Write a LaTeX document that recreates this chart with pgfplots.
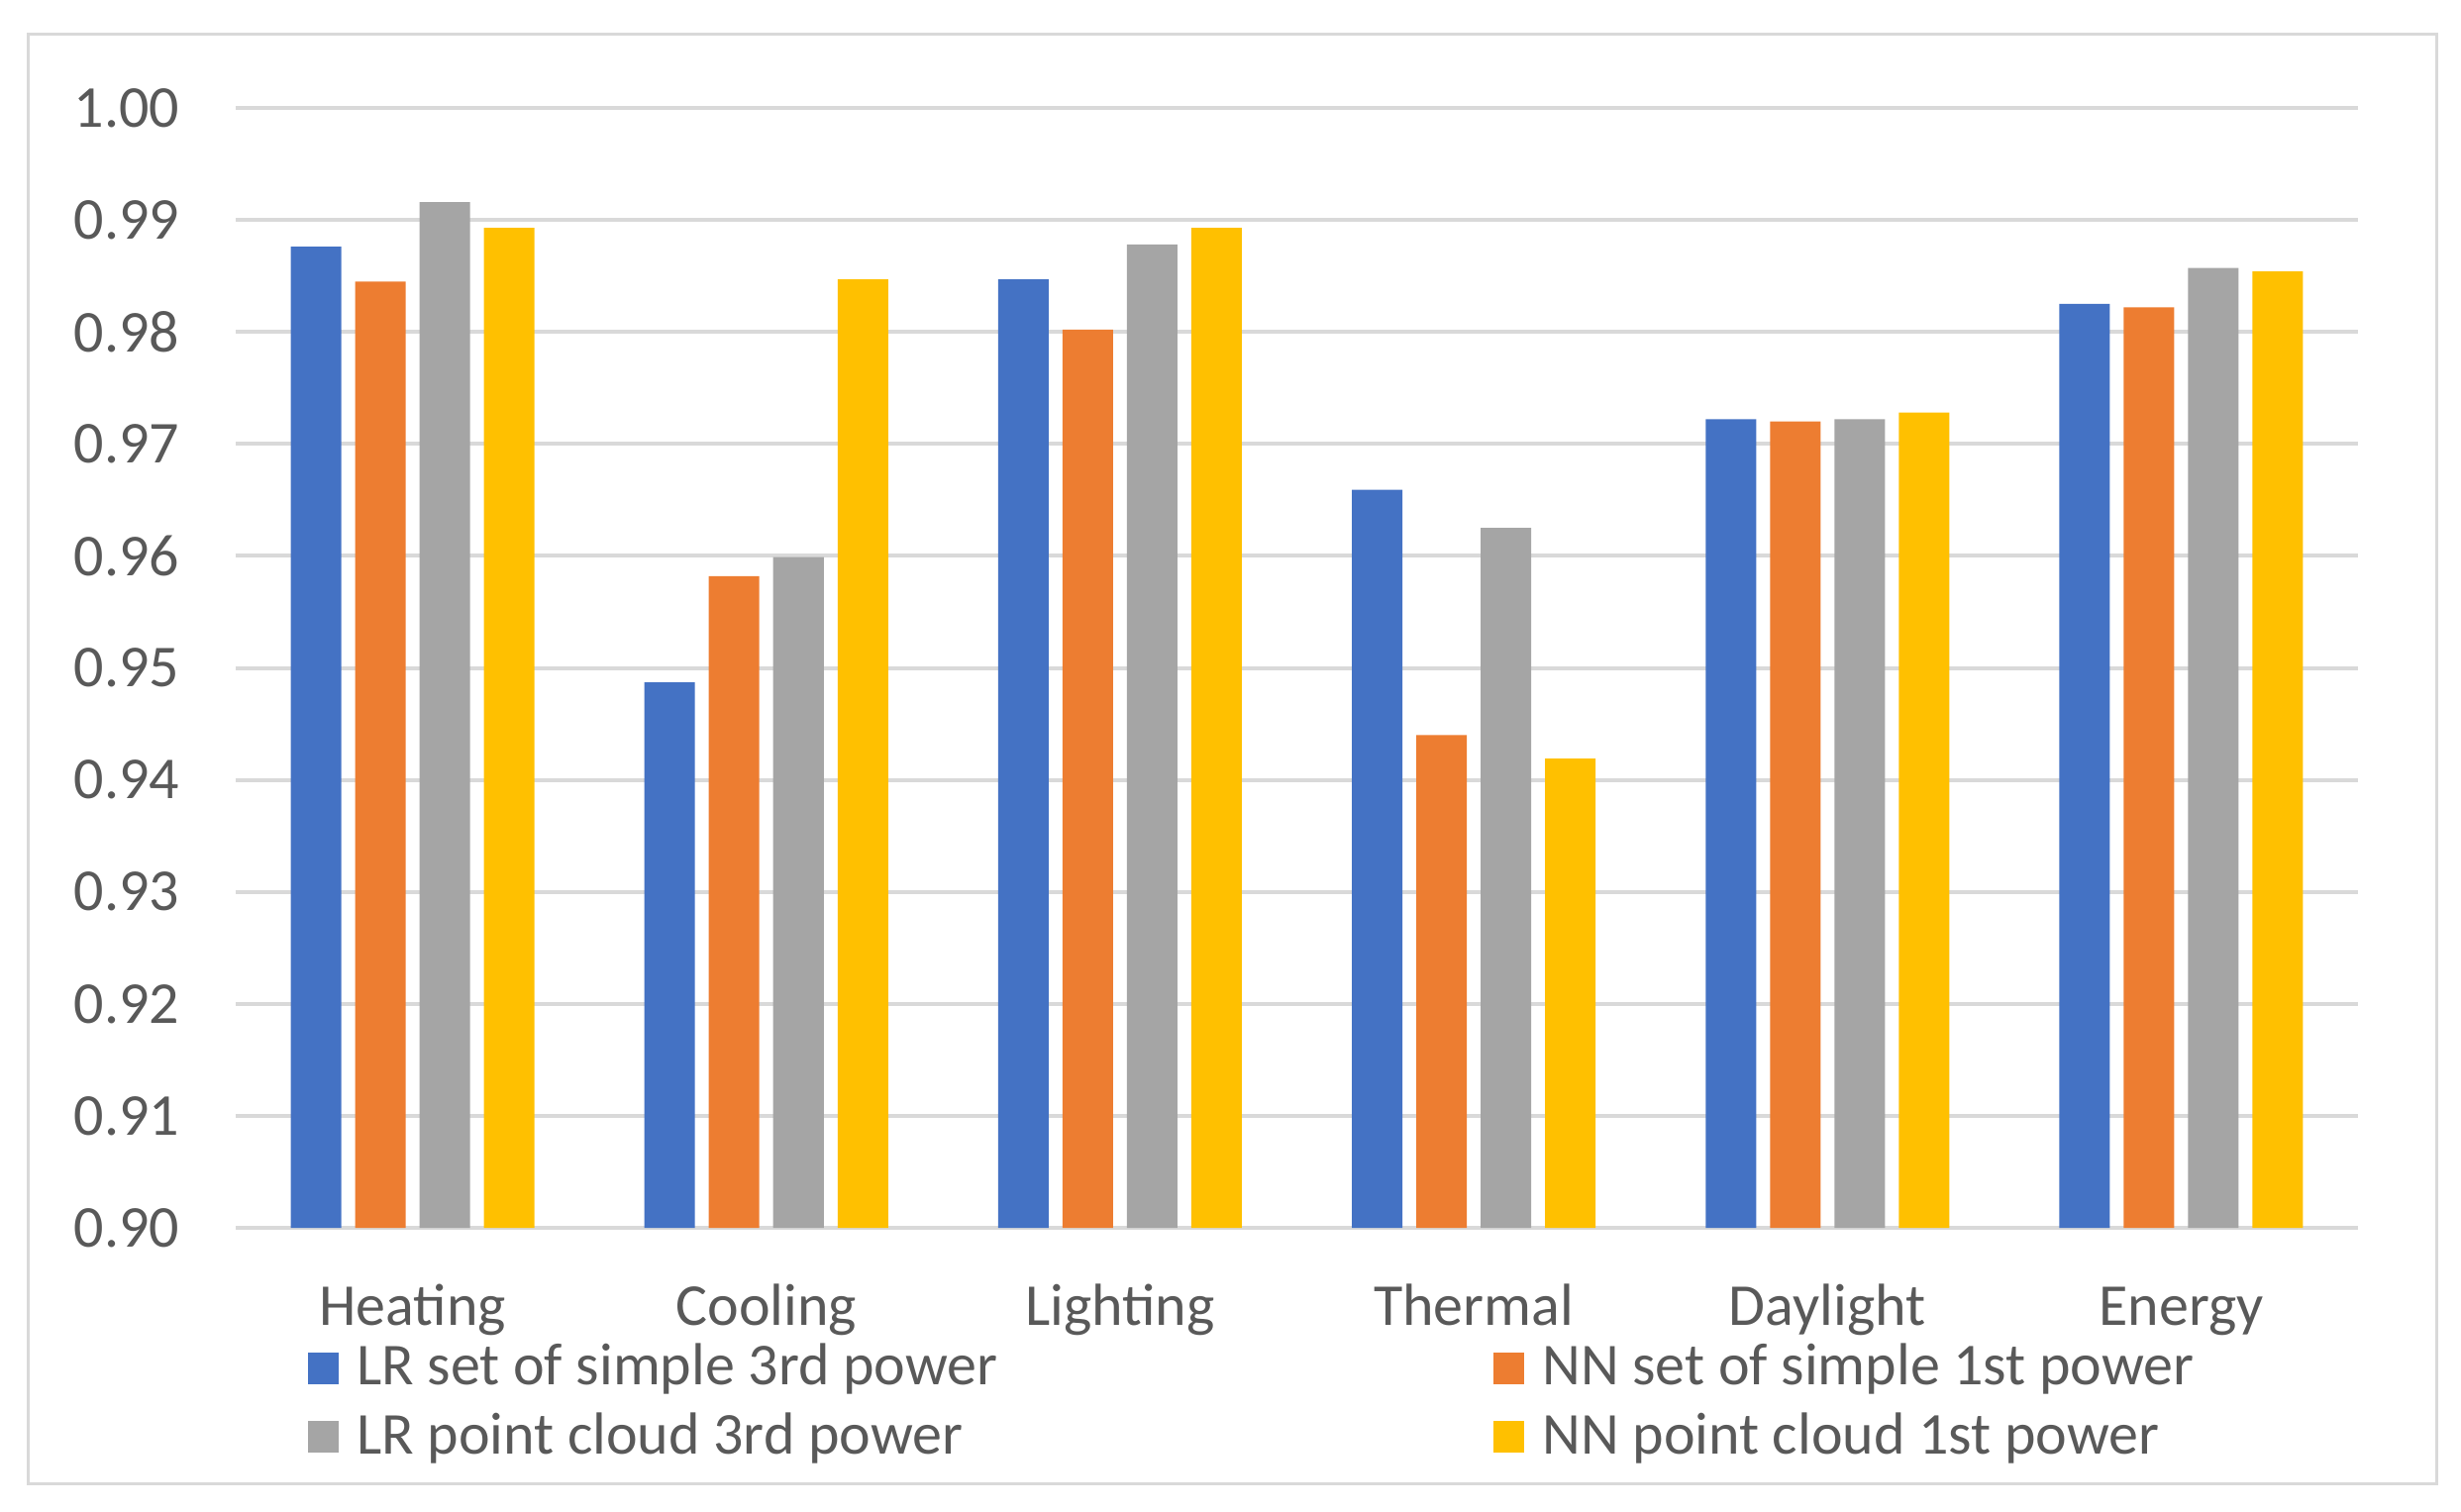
\documentclass[border=0pt]{standalone}
\usepackage{fontspec}
\setmainfont{Carlito}
\usepackage{pgfplots}
\pgfplotsset{compat=1.18}
\definecolor{cblue}{HTML}{4472C4}
\definecolor{corange}{HTML}{ED7D31}
\definecolor{cgray}{HTML}{A5A5A5}
\definecolor{cyellow}{HTML}{FFC000}
\definecolor{txtgray}{HTML}{595959}
\definecolor{gridgray}{HTML}{D9D9D9}
\begin{document}
\begin{tikzpicture}
\begin{axis}[
  scale only axis, width=428.6pt, height=226.2pt,
  ybar=2.8pt, bar width=10.2pt,
  xmin=-0.5, xmax=5.5, ymin=0.90, ymax=1.00,
  xtick={0,1,2,3,4,5},
  xticklabels={Heating,Cooling,Lighting,Thermal,Daylight,Energy},
  ytick={0.90,0.91,0.92,0.93,0.94,0.95,0.96,0.97,0.98,0.99,1.00},
  scaled y ticks=false,
  /pgf/number format/assume math mode=true,
  yticklabel style={/pgf/number format/.cd, fixed, fixed zerofill, precision=2, /tikz/.cd,
     anchor=east, inner sep=0pt, xshift=-11.2pt},
  xticklabel style={anchor=base, inner sep=0pt, yshift=-19.6pt},
  tick label style={font=\fontsize{12}{14}\selectfont, text=txtgray},
  axis line style={draw=none},
  major tick length=0pt,
  tick style={draw=none},
  ymajorgrids, major grid style={gridgray, line width=0.8pt},
  legend columns=2,
  legend cell align=left,
  legend image code/.code={\fill[#1] (0pt,-3.15pt) rectangle (6.3pt,3.15pt);},
  legend style={draw=none, fill=none, inner sep=0pt, outer sep=0pt,
     at={(axis description cs:0.034,-0.156)}, anchor=west,
     font=\fontsize{12}{14}\selectfont, text=txtgray, row sep=0pt,
     /tikz/every odd column/.append style={column sep=1.6pt},
     /tikz/every even column/.append style={column sep=98.1pt}},
]
\addplot[fill=cblue, draw=none] coordinates {(0,0.9876) (1,0.9487) (2,0.9847) (3,0.9659) (4,0.9722) (5,0.9825)};
\addplot[fill=corange, draw=none] coordinates {(0,0.9845) (1,0.9582) (2,0.9802) (3,0.9440) (4,0.9720) (5,0.9822)};
\addplot[fill=cgray, draw=none] coordinates {(0,0.9916) (1,0.9599) (2,0.9878) (3,0.9625) (4,0.9722) (5,0.9857)};
\addplot[fill=cyellow, draw=none] coordinates {(0,0.9893) (1,0.9847) (2,0.9893) (3,0.9419) (4,0.9728) (5,0.9854)};
\legend{LR set of simple 3rd power, NN set of simple 1st power, LR point cloud 3rd power, NN point cloud 1st power}
\end{axis}
\draw[gridgray, line width=0.6pt] ([shift={(-41.9pt,-51.6pt)}]current axis.south west) rectangle ([shift={(15.8pt,14.8pt)}]current axis.north east);
\pgfresetboundingbox
\path ([shift={(-47.6pt,-57.2pt)}]current axis.south west) rectangle ([shift={(20.8pt,21.8pt)}]current axis.north east);
\end{tikzpicture}
\end{document}
